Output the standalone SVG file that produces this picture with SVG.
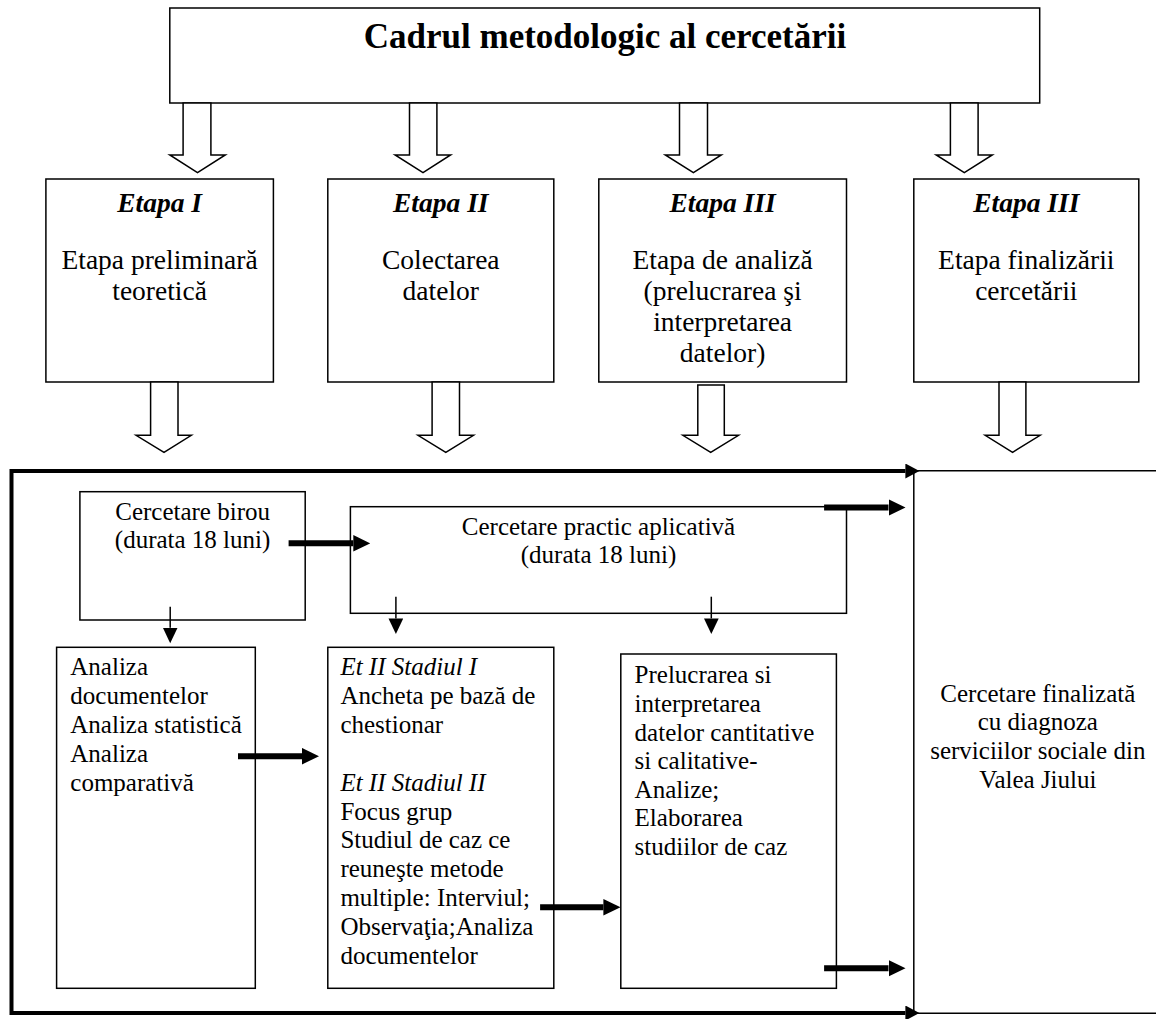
<svg xmlns="http://www.w3.org/2000/svg" width="1156" height="1019" viewBox="0 0 1156 1019">
<style>
  .box { fill: #fff; stroke: #000; stroke-width: 1.5; }
  .hollow { fill: #fff; stroke: #000; stroke-width: 1.5; stroke-linejoin: miter; }
  .t { font-family: "Liberation Serif", "Times New Roman", serif; fill: #000; }
  .title { font-size: 35px; font-weight: bold; text-anchor: middle; }
  .et { font-size: 27.5px; text-anchor: middle; }
  .eth { font-size: 27.5px; font-weight: bold; font-style: italic; text-anchor: middle; }
  .b { font-size: 25px; }
  .bc { font-size: 25px; text-anchor: middle; }
  .i { font-style: italic; }
  .thick { stroke: #000; stroke-width: 6; fill: none; }
  .thin { stroke: #000; stroke-width: 1.5; fill: none; }
  .frame { stroke: #000; stroke-width: 4; fill: none; }
</style>
<defs>
  <marker id="hThick" markerUnits="userSpaceOnUse" markerWidth="17" markerHeight="17" refX="0" refY="8.25" orient="auto">
    <path d="M0,0 L17,8.25 L0,16.5 z" fill="#000"/>
  </marker>
  <marker id="hThin" markerUnits="userSpaceOnUse" markerWidth="16" markerHeight="15" refX="0" refY="7.4" orient="auto">
    <path d="M0,0 L15.6,7.4 L0,14.8 z" fill="#000"/>
  </marker>
  <marker id="hFrame" markerUnits="userSpaceOnUse" markerWidth="15" markerHeight="15" refX="0" refY="7.5" orient="auto-start-reverse">
    <path d="M0,0 L14,7.5 L0,15 z" fill="#000"/>
  </marker>
</defs>

<g id="node-title">
  <rect class="box" x="169.8" y="8" width="869.9" height="95"/>
  <text class="t title" x="605" y="48">Cadrul metodologic al cercetării</text>
</g>

<g id="node-etapa1">
  <rect class="box" x="45.9" y="179" width="227.5" height="203"/>
  <text class="t eth" x="159.6" y="211.7">Etapa I</text>
  <text class="t et" x="159.6" y="268.5">Etapa preliminară</text>
  <text class="t et" x="159.6" y="299.6">teoretică</text>
</g>

<g id="node-etapa2">
  <rect class="box" x="327.8" y="179" width="226" height="203"/>
  <text class="t eth" x="440.8" y="211.7">Etapa II</text>
  <text class="t et" x="440.8" y="268.5">Colectarea</text>
  <text class="t et" x="440.8" y="299.6">datelor</text>
</g>

<g id="node-etapa3">
  <rect class="box" x="598.8" y="179" width="247.7" height="203"/>
  <text class="t eth" x="722.6" y="211.7">Etapa III</text>
  <text class="t et" x="722.6" y="268.5">Etapa de analiză</text>
  <text class="t et" x="722.6" y="299.6">(prelucrarea şi</text>
  <text class="t et" x="722.6" y="330.7">interpretarea</text>
  <text class="t et" x="722.6" y="361.8">datelor)</text>
</g>

<g id="node-etapa4">
  <rect class="box" x="913.8" y="179" width="225" height="203"/>
  <text class="t eth" x="1026.3" y="211.7">Etapa III</text>
  <text class="t et" x="1026.3" y="268.5">Etapa finalizării</text>
  <text class="t et" x="1026.3" y="299.6">cercetării</text>
</g>

<g id="node-birou">
  <rect class="box" x="79.9" y="491.7" width="225.3" height="128.3"/>
  <text class="t bc" x="192.6" y="520">Cercetare birou</text>
  <text class="t bc" x="192.6" y="548.3">(durata 18 luni)</text>
</g>

<g id="node-practic">
  <rect class="box" x="350.4" y="506.7" width="496.1" height="106.6"/>
  <text class="t bc" x="598.5" y="535">Cercetare practic aplicativă</text>
  <text class="t bc" x="598.5" y="563.3">(durata 18 luni)</text>
</g>

<g id="node-analiza">
  <rect class="box" x="56.6" y="647.3" width="198.7" height="341"/>
  <text class="t b" x="70.3" y="675">Analiza</text>
  <text class="t b" x="70.3" y="703.9">documentelor</text>
  <text class="t b" x="70.3" y="732.8">Analiza statistică</text>
  <text class="t b" x="70.3" y="761.7">Analiza</text>
  <text class="t b" x="70.3" y="790.6">comparativă</text>
</g>

<g id="node-stadiul">
  <rect class="box" x="327.8" y="647.3" width="226" height="341"/>
  <text class="t b i" x="340.4" y="675">Et II Stadiul I</text>
  <text class="t b" x="340.4" y="703.9">Ancheta pe bază de</text>
  <text class="t b" x="340.4" y="732.8">chestionar</text>
  <text class="t b i" x="340.4" y="790.6">Et II Stadiul II</text>
  <text class="t b" x="340.4" y="819.5">Focus grup</text>
  <text class="t b" x="340.4" y="848.4">Studiul de caz ce</text>
  <text class="t b" x="340.4" y="877.3">reuneşte metode</text>
  <text class="t b" x="340.4" y="906.2">multiple: Interviul;</text>
  <text class="t b" x="340.4" y="935.1">Observaţia;Analiza</text>
  <text class="t b" x="340.4" y="964">documentelor</text>
</g>

<g id="node-prelucrarea">
  <rect class="box" x="620.8" y="654" width="215.6" height="334.3"/>
  <text class="t b" x="634.6" y="683.3">Prelucrarea si</text>
  <text class="t b" x="634.6" y="711.9">interpretarea</text>
  <text class="t b" x="634.6" y="740.5">datelor cantitative</text>
  <text class="t b" x="634.6" y="769.1">si calitative-</text>
  <text class="t b" x="634.6" y="797.7">Analize;</text>
  <text class="t b" x="634.6" y="826.3">Elaborarea</text>
  <text class="t b" x="634.6" y="854.9">studiilor de caz</text>
</g>

<g id="node-final">
  <path class="thin" d="M1156,470.7 H913.8 V1013.3 H1156"/>
  <text class="t bc" x="1037.8" y="701.7">Cercetare finalizată</text>
  <text class="t bc" x="1037.8" y="730.4">cu diagnoza</text>
  <text class="t bc" x="1037.8" y="759.1">serviciilor sociale din</text>
  <text class="t bc" x="1037.8" y="787.8">Valea Jiului</text>
</g>

<g id="connectors">
  <polygon class="hollow" points="183.1,103 210.9,103 210.9,155 225.3,155 197.5,172.7 169.8,155 183.1,155"/>
  <polygon class="hollow" points="409.5,103 436.9,103 436.9,155 450.6,155 423,172.7 395.1,155 409.5,155"/>
  <polygon class="hollow" points="679.5,103 707.5,103 707.5,155 721.3,155 693.4,172.7 665.3,155 679.5,155"/>
  <polygon class="hollow" points="950.4,103 978.1,103 978.1,155 992.3,155 964.3,172.7 936.2,155 950.4,155"/>
  <polygon class="hollow" points="150.6,382 178,382 178,435.3 191.3,435.3 164,452.3 136.1,435.3 150.6,435.3"/>
  <polygon class="hollow" points="432.1,382 459.5,382 459.5,435.3 473.5,435.3 445.8,452.3 418,435.3 432.1,435.3"/>
  <polygon class="hollow" points="697.8,385 724.3,385 724.3,435.3 738.5,435.3 710.7,452.3 682.9,435.3 697.8,435.3"/>
  <polygon class="hollow" points="999,382 1025.9,382 1025.9,435.3 1040.1,435.3 1012.6,452.3 985.2,435.3 999,435.3"/>
  <polyline class="frame" points="905.4,471 11.5,471 11.5,1013 905.4,1013" marker-start="url(#hFrame)" marker-end="url(#hFrame)"/>
  <line class="thick" x1="288.6" y1="543.3" x2="353.3" y2="543.3" marker-end="url(#hThick)"/>
  <line class="thick" x1="824.1" y1="507.5" x2="888.5" y2="507.5" marker-end="url(#hThick)"/>
  <line class="thick" x1="238" y1="756.2" x2="302" y2="756.2" marker-end="url(#hThick)"/>
  <line class="thick" x1="540.1" y1="907.3" x2="603.4" y2="907.3" marker-end="url(#hThick)"/>
  <line class="thick" x1="824.1" y1="968.3" x2="888.5" y2="968.3" marker-end="url(#hThick)"/>
  <line class="thin" x1="170.2" y1="606.7" x2="170.2" y2="627.7" marker-end="url(#hThin)"/>
  <line class="thin" x1="395.9" y1="596.7" x2="395.9" y2="618.4" marker-end="url(#hThin)"/>
  <line class="thin" x1="711.3" y1="596.7" x2="711.3" y2="618.4" marker-end="url(#hThin)"/>
</g>
</svg>
